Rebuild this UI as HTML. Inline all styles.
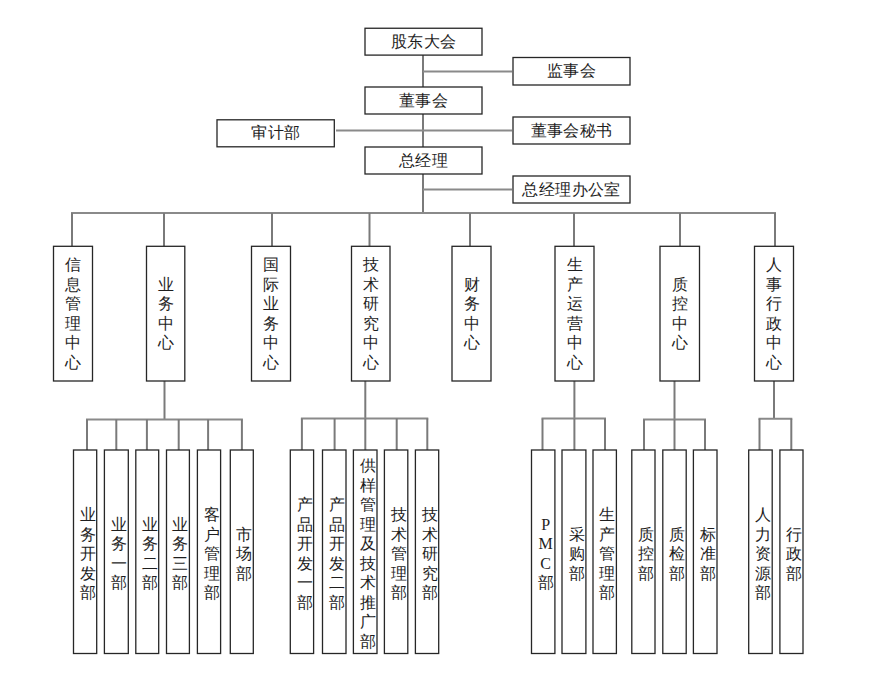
<!DOCTYPE html><html><head><meta charset="utf-8"><style>
html,body{margin:0;padding:0;background:#fff;}
body{width:871px;height:697px;position:relative;overflow:hidden;font-family:"Liberation Serif", serif;color:#1e1e1e;}
svg{position:absolute;left:0;top:0;}
.t{position:absolute;white-space:nowrap;text-align:center;letter-spacing:0.4px;text-indent:0.4px;}
.v{position:absolute;text-align:center;}
.v span{display:block;}
</style></head><body>
<svg width="871" height="697" viewBox="0 0 871 697"><line x1="423" y1="55" x2="423" y2="213" stroke="#7a7a7a" stroke-width="2"/><line x1="423" y1="71.5" x2="512" y2="71.5" stroke="#8a8a8a" stroke-width="2"/><line x1="336" y1="130.5" x2="512" y2="130.5" stroke="#8a8a8a" stroke-width="2"/><line x1="423" y1="189.5" x2="512" y2="189.5" stroke="#8a8a8a" stroke-width="2"/><line x1="71" y1="213" x2="776" y2="213" stroke="#8a8a8a" stroke-width="2"/><line x1="72" y1="213" x2="72" y2="246.3" stroke="#7a7a7a" stroke-width="2"/><line x1="164" y1="213" x2="164" y2="246.3" stroke="#7a7a7a" stroke-width="2"/><line x1="272" y1="213" x2="272" y2="246.3" stroke="#7a7a7a" stroke-width="2"/><line x1="369.5" y1="213" x2="369.5" y2="246.3" stroke="#7a7a7a" stroke-width="2"/><line x1="470" y1="213" x2="470" y2="246.3" stroke="#7a7a7a" stroke-width="2"/><line x1="574" y1="213" x2="574" y2="246.3" stroke="#7a7a7a" stroke-width="2"/><line x1="680" y1="213" x2="680" y2="246.3" stroke="#7a7a7a" stroke-width="2"/><line x1="775" y1="213" x2="775" y2="246.3" stroke="#7a7a7a" stroke-width="2"/><line x1="164.5" y1="381" x2="164.5" y2="419.5" stroke="#7a7a7a" stroke-width="2"/><line x1="86" y1="419.5" x2="242.9" y2="419.5" stroke="#8a8a8a" stroke-width="2"/><line x1="87" y1="419.5" x2="87" y2="450" stroke="#7a7a7a" stroke-width="2"/><line x1="116.3" y1="419.5" x2="116.3" y2="450" stroke="#7a7a7a" stroke-width="2"/><line x1="146.9" y1="419.5" x2="146.9" y2="450" stroke="#7a7a7a" stroke-width="2"/><line x1="178.7" y1="419.5" x2="178.7" y2="450" stroke="#7a7a7a" stroke-width="2"/><line x1="208.1" y1="419.5" x2="208.1" y2="450" stroke="#7a7a7a" stroke-width="2"/><line x1="241.9" y1="419.5" x2="241.9" y2="450" stroke="#7a7a7a" stroke-width="2"/><line x1="365.3" y1="381" x2="365.3" y2="418.5" stroke="#7a7a7a" stroke-width="2"/><line x1="300.9" y1="418.5" x2="428.3" y2="418.5" stroke="#8a8a8a" stroke-width="2"/><line x1="301.9" y1="418.5" x2="301.9" y2="450" stroke="#7a7a7a" stroke-width="2"/><line x1="334.6" y1="418.5" x2="334.6" y2="450" stroke="#7a7a7a" stroke-width="2"/><line x1="365.3" y1="418.5" x2="365.3" y2="450" stroke="#7a7a7a" stroke-width="2"/><line x1="396.7" y1="418.5" x2="396.7" y2="450" stroke="#7a7a7a" stroke-width="2"/><line x1="427.3" y1="418.5" x2="427.3" y2="450" stroke="#7a7a7a" stroke-width="2"/><line x1="574.4" y1="381" x2="574.4" y2="418.6" stroke="#7a7a7a" stroke-width="2"/><line x1="541.5" y1="418.6" x2="606" y2="418.6" stroke="#8a8a8a" stroke-width="2"/><line x1="542.5" y1="418.6" x2="542.5" y2="450" stroke="#7a7a7a" stroke-width="2"/><line x1="574.4" y1="418.6" x2="574.4" y2="450" stroke="#7a7a7a" stroke-width="2"/><line x1="605" y1="418.6" x2="605" y2="450" stroke="#7a7a7a" stroke-width="2"/><line x1="674.5" y1="381" x2="674.5" y2="419.5" stroke="#7a7a7a" stroke-width="2"/><line x1="643" y1="419.5" x2="706" y2="419.5" stroke="#8a8a8a" stroke-width="2"/><line x1="644" y1="419.5" x2="644" y2="450" stroke="#7a7a7a" stroke-width="2"/><line x1="674.5" y1="419.5" x2="674.5" y2="450" stroke="#7a7a7a" stroke-width="2"/><line x1="705" y1="419.5" x2="705" y2="450" stroke="#7a7a7a" stroke-width="2"/><line x1="774" y1="381" x2="774" y2="418.7" stroke="#7a7a7a" stroke-width="2"/><line x1="758.5" y1="418.7" x2="792.3" y2="418.7" stroke="#8a8a8a" stroke-width="2"/><line x1="759.5" y1="418.7" x2="759.5" y2="450" stroke="#7a7a7a" stroke-width="2"/><line x1="791.3" y1="418.7" x2="791.3" y2="450" stroke="#7a7a7a" stroke-width="2"/><rect x="365" y="28.25" width="117" height="26.85" fill="#fff" stroke="#262626" stroke-width="1.3"/><rect x="513" y="57.5" width="117" height="27.5" fill="#fff" stroke="#262626" stroke-width="1.3"/><rect x="365" y="87" width="117" height="27" fill="#fff" stroke="#262626" stroke-width="1.3"/><rect x="217" y="119.8" width="117.3" height="27" fill="#fff" stroke="#262626" stroke-width="1.3"/><rect x="513" y="117" width="117" height="27" fill="#fff" stroke="#262626" stroke-width="1.3"/><rect x="365" y="147" width="117" height="27" fill="#fff" stroke="#262626" stroke-width="1.3"/><rect x="513" y="176" width="117" height="27" fill="#fff" stroke="#262626" stroke-width="1.3"/><rect x="53.5" y="246.3" width="39" height="134.7" fill="#fff" stroke="#262626" stroke-width="1.3"/><rect x="146.5" y="246.3" width="38.3" height="134.7" fill="#fff" stroke="#262626" stroke-width="1.3"/><rect x="251.5" y="246.3" width="39" height="134.7" fill="#fff" stroke="#262626" stroke-width="1.3"/><rect x="351.5" y="246.3" width="38.5" height="134.7" fill="#fff" stroke="#262626" stroke-width="1.3"/><rect x="452" y="246.3" width="39" height="134.7" fill="#fff" stroke="#262626" stroke-width="1.3"/><rect x="555" y="246.3" width="39" height="134.7" fill="#fff" stroke="#262626" stroke-width="1.3"/><rect x="660" y="246.3" width="39.5" height="134.7" fill="#fff" stroke="#262626" stroke-width="1.3"/><rect x="754.5" y="246.3" width="39" height="134.7" fill="#fff" stroke="#262626" stroke-width="1.3"/><rect x="73.5" y="450" width="23.2" height="203.5" fill="#fff" stroke="#262626" stroke-width="1.3"/><rect x="104.4" y="450" width="23.9" height="203.5" fill="#fff" stroke="#262626" stroke-width="1.3"/><rect x="135.8" y="450" width="22.9" height="203.5" fill="#fff" stroke="#262626" stroke-width="1.3"/><rect x="166.5" y="450" width="22.9" height="203.5" fill="#fff" stroke="#262626" stroke-width="1.3"/><rect x="197.4" y="450" width="23.2" height="203.5" fill="#fff" stroke="#262626" stroke-width="1.3"/><rect x="230.3" y="450" width="23" height="203.5" fill="#fff" stroke="#262626" stroke-width="1.3"/><rect x="290.3" y="450" width="23.3" height="203.5" fill="#fff" stroke="#262626" stroke-width="1.3"/><rect x="322.5" y="450" width="23.5" height="203.5" fill="#fff" stroke="#262626" stroke-width="1.3"/><rect x="353.4" y="450" width="23.6" height="203.5" fill="#fff" stroke="#262626" stroke-width="1.3"/><rect x="384.4" y="450" width="23.4" height="203.5" fill="#fff" stroke="#262626" stroke-width="1.3"/><rect x="415.4" y="450" width="23.3" height="203.5" fill="#fff" stroke="#262626" stroke-width="1.3"/><rect x="531.5" y="450" width="23.4" height="203.5" fill="#fff" stroke="#262626" stroke-width="1.3"/><rect x="562" y="450" width="23.9" height="203.5" fill="#fff" stroke="#262626" stroke-width="1.3"/><rect x="593" y="450" width="23.4" height="203.5" fill="#fff" stroke="#262626" stroke-width="1.3"/><rect x="631.8" y="450" width="23.2" height="203.5" fill="#fff" stroke="#262626" stroke-width="1.3"/><rect x="662.8" y="450" width="23.4" height="203.5" fill="#fff" stroke="#262626" stroke-width="1.3"/><rect x="693.4" y="450" width="23.6" height="203.5" fill="#fff" stroke="#262626" stroke-width="1.3"/><rect x="748.7" y="450" width="23.5" height="203.5" fill="#fff" stroke="#262626" stroke-width="1.3"/><rect x="779.9" y="450" width="23.1" height="203.5" fill="#fff" stroke="#262626" stroke-width="1.3"/></svg>
<div class="t" style="left:323.5px;top:31.7px;width:200px;font-size:16px;line-height:20px;">股东大会</div>
<div class="t" style="left:471.5px;top:61.2px;width:200px;font-size:16px;line-height:20px;">监事会</div>
<div class="t" style="left:323.5px;top:90.5px;width:200px;font-size:16px;line-height:20px;">董事会</div>
<div class="t" style="left:175.6px;top:123.3px;width:200px;font-size:16px;line-height:20px;">审计部</div>
<div class="t" style="left:471.5px;top:120.5px;width:200px;font-size:16px;line-height:20px;">董事会秘书</div>
<div class="t" style="left:323.5px;top:150.5px;width:200px;font-size:16px;line-height:20px;">总经理</div>
<div class="t" style="left:471.5px;top:179.5px;width:200px;font-size:16px;line-height:20px;">总经理办公室</div>
<div class="v" style="left:53.0px;top:255.1px;width:40px;font-size:16px;line-height:19.5px;"><span>信</span><span>息</span><span>管</span><span>理</span><span>中</span><span>心</span></div>
<div class="v" style="left:145.7px;top:274.6px;width:40px;font-size:16px;line-height:19.5px;"><span>业</span><span>务</span><span>中</span><span>心</span></div>
<div class="v" style="left:251.0px;top:255.1px;width:40px;font-size:16px;line-height:19.5px;"><span>国</span><span>际</span><span>业</span><span>务</span><span>中</span><span>心</span></div>
<div class="v" style="left:350.8px;top:255.1px;width:40px;font-size:16px;line-height:19.5px;"><span>技</span><span>术</span><span>研</span><span>究</span><span>中</span><span>心</span></div>
<div class="v" style="left:451.5px;top:274.6px;width:40px;font-size:16px;line-height:19.5px;"><span>财</span><span>务</span><span>中</span><span>心</span></div>
<div class="v" style="left:554.5px;top:255.1px;width:40px;font-size:16px;line-height:19.5px;"><span>生</span><span>产</span><span>运</span><span>营</span><span>中</span><span>心</span></div>
<div class="v" style="left:659.8px;top:274.6px;width:40px;font-size:16px;line-height:19.5px;"><span>质</span><span>控</span><span>中</span><span>心</span></div>
<div class="v" style="left:754.0px;top:255.1px;width:40px;font-size:16px;line-height:19.5px;"><span>人</span><span>事</span><span>行</span><span>政</span><span>中</span><span>心</span></div>
<div class="v" style="left:67.6px;top:505.0px;width:40px;font-size:16px;line-height:19.5px;"><span>业</span><span>务</span><span>开</span><span>发</span><span>部</span></div>
<div class="v" style="left:98.9px;top:514.8px;width:40px;font-size:16px;line-height:19.5px;"><span>业</span><span>务</span><span>一</span><span>部</span></div>
<div class="v" style="left:129.8px;top:514.8px;width:40px;font-size:16px;line-height:19.5px;"><span>业</span><span>务</span><span>二</span><span>部</span></div>
<div class="v" style="left:160.4px;top:514.8px;width:40px;font-size:16px;line-height:19.5px;"><span>业</span><span>务</span><span>三</span><span>部</span></div>
<div class="v" style="left:191.5px;top:505.0px;width:40px;font-size:16px;line-height:19.5px;"><span>客</span><span>户</span><span>管</span><span>理</span><span>部</span></div>
<div class="v" style="left:224.3px;top:524.5px;width:40px;font-size:16px;line-height:19.5px;"><span>市</span><span>场</span><span>部</span></div>
<div class="v" style="left:284.5px;top:495.2px;width:40px;font-size:16px;line-height:19.5px;"><span>产</span><span>品</span><span>开</span><span>发</span><span>一</span><span>部</span></div>
<div class="v" style="left:316.8px;top:495.2px;width:40px;font-size:16px;line-height:19.5px;"><span>产</span><span>品</span><span>开</span><span>发</span><span>二</span><span>部</span></div>
<div class="v" style="left:347.7px;top:456.2px;width:40px;font-size:16px;line-height:19.5px;"><span>供</span><span>样</span><span>管</span><span>理</span><span>及</span><span>技</span><span>术</span><span>推</span><span>广</span><span>部</span></div>
<div class="v" style="left:378.6px;top:505.0px;width:40px;font-size:16px;line-height:19.5px;"><span>技</span><span>术</span><span>管</span><span>理</span><span>部</span></div>
<div class="v" style="left:409.5px;top:505.0px;width:40px;font-size:16px;line-height:19.5px;"><span>技</span><span>术</span><span>研</span><span>究</span><span>部</span></div>
<div class="v" style="left:525.7px;top:514.8px;width:40px;font-size:16px;line-height:19.5px;"><span>P</span><span>M</span><span>C</span><span>部</span></div>
<div class="v" style="left:556.5px;top:524.5px;width:40px;font-size:16px;line-height:19.5px;"><span>采</span><span>购</span><span>部</span></div>
<div class="v" style="left:587.2px;top:505.0px;width:40px;font-size:16px;line-height:19.5px;"><span>生</span><span>产</span><span>管</span><span>理</span><span>部</span></div>
<div class="v" style="left:625.9px;top:524.5px;width:40px;font-size:16px;line-height:19.5px;"><span>质</span><span>控</span><span>部</span></div>
<div class="v" style="left:657.0px;top:524.5px;width:40px;font-size:16px;line-height:19.5px;"><span>质</span><span>检</span><span>部</span></div>
<div class="v" style="left:687.7px;top:524.5px;width:40px;font-size:16px;line-height:19.5px;"><span>标</span><span>准</span><span>部</span></div>
<div class="v" style="left:743.0px;top:505.0px;width:40px;font-size:16px;line-height:19.5px;"><span>人</span><span>力</span><span>资</span><span>源</span><span>部</span></div>
<div class="v" style="left:774.0px;top:524.5px;width:40px;font-size:16px;line-height:19.5px;"><span>行</span><span>政</span><span>部</span></div>
</body></html>
